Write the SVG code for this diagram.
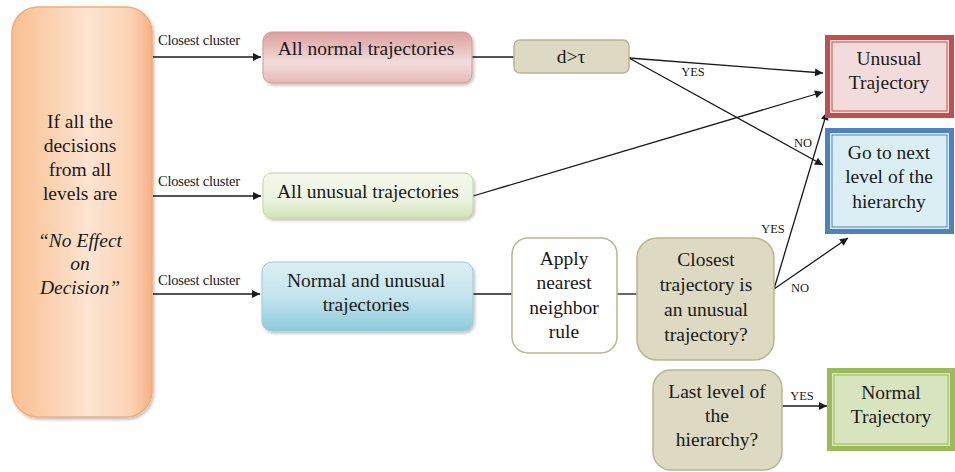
<svg xmlns="http://www.w3.org/2000/svg" width="955" height="472" viewBox="0 0 955 472">
  <style>
    .t { font-family: "Liberation Serif", "DejaVu Serif", "Times New Roman", serif; font-size: 19.5px; fill: #1a1a1a; text-anchor: middle; }
    .ti { font-style: italic; }
    .lbl { font-family: "Liberation Serif", "DejaVu Serif", "Times New Roman", serif; font-size: 14.5px; fill: #1a1a1a; letter-spacing: -0.2px; }
    .yn { font-family: "Liberation Serif", "DejaVu Serif", "Times New Roman", serif; font-size: 12.5px; fill: #1a1a1a; text-anchor: middle; }
    .ln { stroke: #1a1a1a; stroke-width: 1.3; fill: none; }
    .arr { stroke: #1a1a1a; stroke-width: 1.3; fill: none; marker-end: url(#ah); }
    .tan { fill: #ddd9c3; stroke: #bcb48e; stroke-width: 1.5; }
  </style>
  <defs>
    <marker id="ah" viewBox="0 0 10 10" refX="10" refY="5" markerWidth="9" markerHeight="8" markerUnits="userSpaceOnUse" orient="auto">
      <path d="M0,0 L10,5 L0,10 z" fill="#1a1a1a"/>
    </marker>
    <linearGradient id="gOrange" x1="0" y1="0" x2="1" y2="0">
      <stop offset="0" stop-color="#f9bf8f"/>
      <stop offset="0.55" stop-color="#fde4d2"/>
      <stop offset="0.85" stop-color="#fbd3b4"/>
      <stop offset="1" stop-color="#f7b183"/>
    </linearGradient>
    <linearGradient id="gPink" x1="0" y1="0" x2="0" y2="1">
      <stop offset="0" stop-color="#dc9f9e"/>
      <stop offset="0.6" stop-color="#f2dcdb"/>
      <stop offset="1" stop-color="#e6b9b8"/>
    </linearGradient>
    <linearGradient id="gGreen" x1="0" y1="0" x2="0" y2="1">
      <stop offset="0" stop-color="#f4f8ec"/>
      <stop offset="0.6" stop-color="#edf3e2"/>
      <stop offset="1" stop-color="#d3e3b4"/>
    </linearGradient>
    <linearGradient id="gBlue" x1="0" y1="0" x2="0" y2="1">
      <stop offset="0" stop-color="#dbeef4"/>
      <stop offset="0.5" stop-color="#c4e4ee"/>
      <stop offset="1" stop-color="#8dcbdc"/>
    </linearGradient>
    <filter id="sh" x="-10%" y="-10%" width="130%" height="130%">
      <feDropShadow dx="1.5" dy="2" stdDeviation="1.5" flood-color="#000" flood-opacity="0.25"/>
    </filter>
  </defs>

  <!-- connectors -->
  <g id="connectors">
    <line class="arr" x1="153" y1="57" x2="261" y2="57"/>
    <line class="arr" x1="153" y1="196" x2="261" y2="196"/>
    <line class="arr" x1="153" y1="294" x2="260" y2="294"/>
    <line class="ln" x1="472" y1="57" x2="514" y2="57"/>
    <line class="arr" x1="629" y1="58" x2="823" y2="73"/>
    <line class="arr" x1="629" y1="58" x2="823" y2="165"/>
    <line class="arr" x1="473" y1="196" x2="823" y2="92"/>
    <line class="ln" x1="473" y1="294" x2="512" y2="294"/>
    <line class="ln" x1="617" y1="294" x2="637" y2="294"/>
    <line class="arr" x1="774" y1="289" x2="827" y2="112"/>
    <line class="arr" x1="774" y1="289" x2="848" y2="238"/>
    <line class="arr" x1="782" y1="406" x2="827" y2="406"/>
    <text class="lbl" x="158" y="45">Closest cluster</text>
    <text class="lbl" x="158" y="186">Closest cluster</text>
    <text class="lbl" x="158" y="285">Closest cluster</text>
    <text class="yn" x="693" y="76">YES</text>
    <text class="yn" x="803" y="147">NO</text>
    <text class="yn" x="773" y="233">YES</text>
    <text class="yn" x="800" y="292">NO</text>
    <text class="yn" x="802" y="400">YES</text>
  </g>

  <!-- condition source -->
  <g id="condition">
    <rect x="12" y="7" width="140" height="410" rx="26" fill="url(#gOrange)" stroke="#f0ad7e" stroke-width="1.5" filter="url(#sh)"/>
    <text class="t" x="80" y="128">If all the</text>
    <text class="t" x="80" y="152">decisions</text>
    <text class="t" x="80" y="176">from all</text>
    <text class="t" x="80" y="200">levels are</text>
    <text class="t ti" x="80" y="247">“No Effect</text>
    <text class="t ti" x="80" y="270">on</text>
    <text class="t ti" x="80" y="294">Decision”</text>
  </g>

  <g id="all-normal">
    <rect x="263" y="32" width="209" height="51" rx="9" fill="url(#gPink)" stroke="#d99694" stroke-width="1" filter="url(#sh)"/>
    <text class="t" x="366" y="55">All normal trajectories</text>
  </g>

  <g id="all-unusual">
    <rect x="263" y="173" width="210" height="45" rx="9" fill="url(#gGreen)" stroke="#c3d69b" stroke-width="1" filter="url(#sh)"/>
    <text class="t" x="368" y="198">All unusual trajectories</text>
  </g>

  <g id="normal-and-unusual">
    <rect x="262" y="262" width="211" height="69" rx="10" fill="url(#gBlue)" stroke="#93cddd" stroke-width="1" filter="url(#sh)"/>
    <text class="t" x="366" y="287">Normal and unusual</text>
    <text class="t" x="366" y="311">trajectories</text>
  </g>

  <g id="threshold">
    <rect x="514" y="40" width="115" height="33" rx="6" class="tan"/>
    <text class="t" x="571" y="63">d&gt;τ</text>
  </g>

  <g id="nearest-neighbor">
    <rect x="512" y="238" width="105" height="115" rx="16" fill="#ffffff" stroke="#bcb48e" stroke-width="1.5"/>
    <text class="t" x="564" y="265">Apply</text>
    <text class="t" x="564" y="289">nearest</text>
    <text class="t" x="564" y="314">neighbor</text>
    <text class="t" x="564" y="338">rule</text>
  </g>

  <g id="closest-unusual">
    <rect x="637" y="238" width="137" height="122" rx="20" class="tan"/>
    <text class="t" x="706" y="266">Closest</text>
    <text class="t" x="706" y="291">trajectory is</text>
    <text class="t" x="706" y="316">an unusual</text>
    <text class="t" x="706" y="341">trajectory?</text>
  </g>

  <g id="last-level">
    <rect x="653" y="370" width="129" height="100" rx="18" class="tan"/>
    <text class="t" x="717" y="398">Last level of</text>
    <text class="t" x="717" y="422">the</text>
    <text class="t" x="717" y="446">hierarchy?</text>
  </g>

  <g id="unusual-trajectory">
    <rect x="827.5" y="37.5" width="124" height="78" fill="#f2dcdb" stroke="#c0504d" stroke-width="5"/>
    <rect x="832" y="42" width="115" height="69" fill="none" stroke="#c0504d" stroke-width="1"/>
    <text class="t" x="889" y="65">Unusual</text>
    <text class="t" x="889" y="89">Trajectory</text>
  </g>

  <g id="next-level">
    <rect x="827.5" y="130.5" width="124" height="101" fill="#dbeef4" stroke="#4f81bd" stroke-width="5"/>
    <rect x="832" y="135" width="115" height="92" fill="none" stroke="#4f81bd" stroke-width="1"/>
    <text class="t" x="889" y="159">Go to next</text>
    <text class="t" x="889" y="183">level of the</text>
    <text class="t" x="889" y="208">hierarchy</text>
  </g>

  <g id="normal-trajectory">
    <rect x="829.5" y="370.5" width="123" height="78" fill="#d7e4bd" stroke="#9bbb59" stroke-width="5"/>
    <rect x="834" y="375" width="114" height="69" fill="none" stroke="#9bbb59" stroke-width="1"/>
    <text class="t" x="891" y="399">Normal</text>
    <text class="t" x="891" y="423">Trajectory</text>
  </g>
</svg>
